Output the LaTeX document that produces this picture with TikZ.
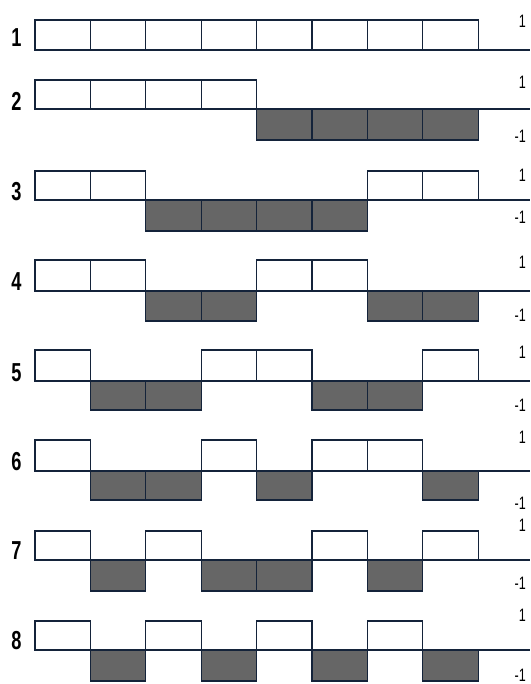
\documentclass[tikz,border=0pt]{standalone}
\usepackage{fontspec}
\setmainfont{Liberation Sans}
\definecolor{ln}{HTML}{14233A}
\definecolor{gr}{HTML}{666666}
\tikzset{
  cellpos/.style={draw=ln, line width=1.3pt, fill=white},
  cellneg/.style={draw=ln, line width=1.3pt, fill=gr},
  baseline/.style={draw=ln, line width=1.3pt},
  rowlab/.style={inner sep=0pt, font=\bfseries\fontsize{26}{26}\selectfont},
  vallab/.style={inner sep=0pt, anchor=east, font=\fontsize{18}{18}\selectfont}
}
\begin{document}
\begin{tikzpicture}[x=1pt,y=-1pt]
\useasboundingbox (0,0) rectangle (530,684);
\fill[white] (0,0) rectangle (530,684);
\foreach \n/\t/\b/\d/\yn/\yo/\ym/\pat in {
  1/20/50/80/38/21/0/{1,1,1,1,1,1,1,1},
  2/80/109/140/101/82/136/{1,1,1,1,0,0,0,0},
  3/171/200/231/192/175/217/{1,1,0,0,0,0,1,1},
  4/260/291/321/282/262/315/{1,1,0,0,1,1,0,0},
  5/350/381/410/373/352/405/{1,0,0,1,1,0,0,1},
  6/440/471/500/462/437/503/{1,0,0,1,0,1,1,0},
  7/531/560/591/551/525/583/{1,0,1,0,0,1,0,1},
  8/621/650/681/641/615/675/{1,0,1,0,1,0,1,0}} {
  \coordinate (s\n) at (35,\b);
  \coordinate (e\n) at (530,\b);
  \draw[baseline] (s\n) -- (e\n);
  \foreach \s [count=\i from 0] in \pat {
    \ifnum\s=1
      \draw[cellpos] ({35+55.4*\i},\t) rectangle ({35+55.4*(\i+1)},\b);
    \else
      \draw[cellneg] ({35+55.4*\i},\b) rectangle ({35+55.4*(\i+1)},\d);
    \fi
  }
  \node[rowlab] (r\n) at (16.5,\yn) {\scalebox{0.7}[1]{\n}};
  \node[vallab] (p\n) at (526,\yo) {\scalebox{0.7}[1]{1}};
  \ifnum\n>1
    \node[vallab] (m\n) at (526,\ym) {\scalebox{0.7}[1]{-1}};
  \fi
}
\end{tikzpicture}
\end{document}
